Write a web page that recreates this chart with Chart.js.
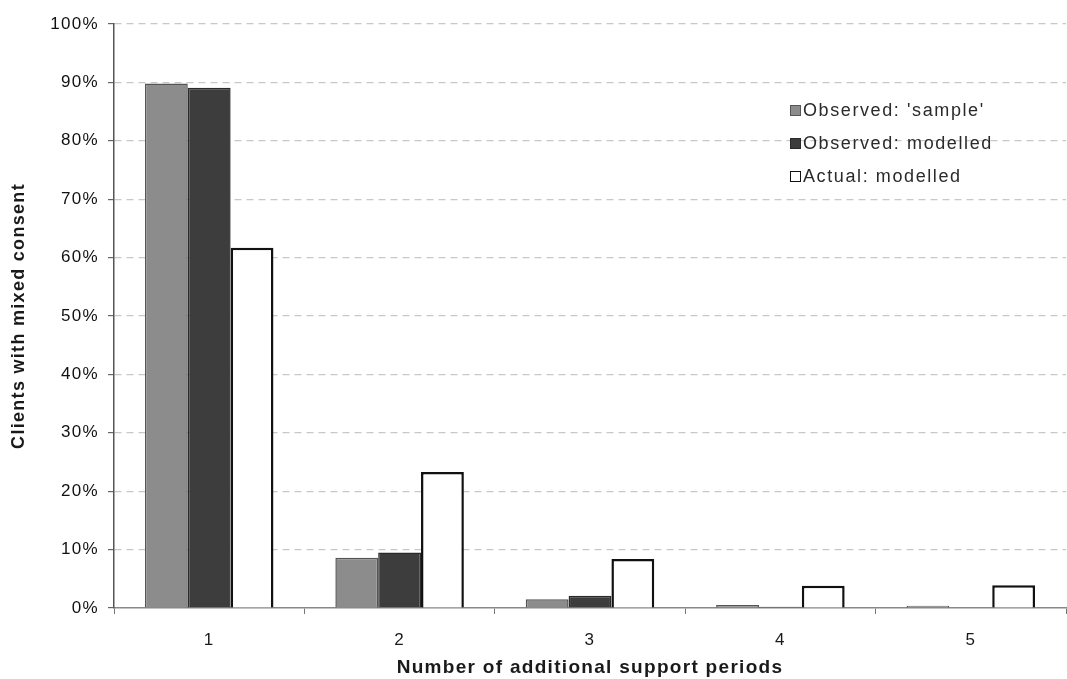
<!DOCTYPE html>
<html lang="en">
<head>
    <meta charset="UTF-8">
    <title>Clients with mixed consent</title>
    <script src="https://cdn.jsdelivr.net/npm/chart.js@4"></script>
    <style>
        body { margin: 0; background: #fff; }
        #wrap { position: relative; width: 1067px; height: 679px; }
        #legend { position: absolute; left: 790px; top: 97px; font-family: "Liberation Sans", Arial, sans-serif; font-size: 18px; letter-spacing: 1.6px; color: #2a2a2a; }
        #legend div { height: 33px; line-height: 26px; white-space: nowrap; }
        #legend span { display: inline-block; width: 11px; height: 11px; margin-right: 2px; vertical-align: 0px; box-sizing: border-box; }
    </style>
</head>
<body>
<div id="wrap">
    <canvas id="myChart" width="1067" height="679"></canvas>
    <div id="legend"></div>
</div>

<script>

    var categories = ["1", "2", "3", "4", "5"];

    var observedSample = [89.8, 8.6, 1.5, 0.5, 0.4];
    var observedModelled = [89.1, 9.5, 2.1, 0.2, 0.1];
    var actualModelled = [61.7, 23.3, 8.4, 3.8, 3.9];

    var yTicks = [0, 10, 20, 30, 40, 50, 60, 70, 80, 90, 100];

    var seriesNames = ["Observed: 'sample'", "Observed: modelled", "Actual: modelled"];
    var seriesFill = ["#8c8c8c", "#3d3d3d", "#ffffff"];
    var seriesBorder = ["#555555", "#2a2a2a", "#111111"];

    var font = "'Liberation Sans', Arial, sans-serif";

    // scanned text looks wide, so space the letters a bit
    var spacing = {
        id: 'spacing',
        beforeLayout: function (c) { c.ctx.letterSpacing = '1.3px'; },
        beforeDraw: function (c) { c.ctx.letterSpacing = '1.3px'; }
    };

    var ctx = document.getElementById("myChart");

    var chart = new Chart(ctx, {
        type: 'bar',
        data: {
            labels: categories,
            datasets: [observedSample, observedModelled, actualModelled].map(function (d, i) {
                return {
                    label: seriesNames[i],
                    data: d,
                    backgroundColor: seriesFill[i],
                    borderColor: seriesBorder[i],
                    borderWidth: i == 2 ? 2.5 : 1.5,
                    borderSkipped: 'bottom',
                    categoryPercentage: 0.675,
                    barPercentage: 1.0
                };
            })
        },
        options: {
            responsive: false,
            animation: false,
            layout: { padding: { top: 24, right: 1, left: 0, bottom: 0 } },
            plugins: {
                legend: { display: false },
                tooltip: { enabled: false }
            },
            scales: {
                x: {
                    afterFit: function (s) { s.height = 71; },
                    grid: { drawOnChartArea: false, drawTicks: true, tickLength: 6, color: '#777', offset: true },
                    border: { color: '#888', width: 1.5 },
                    ticks: { color: '#1a1a1a', font: { family: font, size: 17 }, padding: 16 },
                    title: { display: true, text: 'Number of additional support periods', color: '#1a1a1a',
                        font: { family: font, size: 19, weight: 'bold' }, padding: { top: 1, bottom: 0 } }
                },
                y: {
                    min: 0,
                    max: 100,
                    afterFit: function (s) { s.width = 114; },
                    afterBuildTicks: function (s) { s.ticks = yTicks.map(function (v) { return { value: v }; }); },
                    grid: {
                        color: function (c) { return c.tick && c.tick.value == 0 ? 'rgba(0,0,0,0)' : '#c8c8c8'; },
                        tickColor: '#666',
                        tickLength: 6,
                        lineWidth: 1.2
                    },
                    // in v4 border.dash sets the grid line dashes
                    border: { color: '#555', width: 1.5, dash: [7, 5] },
                    ticks: {
                        color: '#111',
                        font: { family: font, size: 17 },
                        padding: 9,
                        callback: function (v) { return v + '%'; }
                    },
                    title: { display: true, text: 'Clients with mixed consent', color: '#1a1a1a',
                        font: { family: font, size: 18, weight: 'bold' }, padding: { top: 8, bottom: 4 } }
                }
            }
        },
        plugins: [spacing]
    });

    var legend = document.getElementById("legend");
    seriesNames.forEach(function (name, i) {
        var row = document.createElement("div");
        var sw = document.createElement("span");
        sw.style.background = seriesFill[i];
        sw.style.border = "1.5px solid " + seriesBorder[i];
        row.appendChild(sw);
        row.appendChild(document.createTextNode(name));
        legend.appendChild(row);
    });

</script>
</body>
</html>
